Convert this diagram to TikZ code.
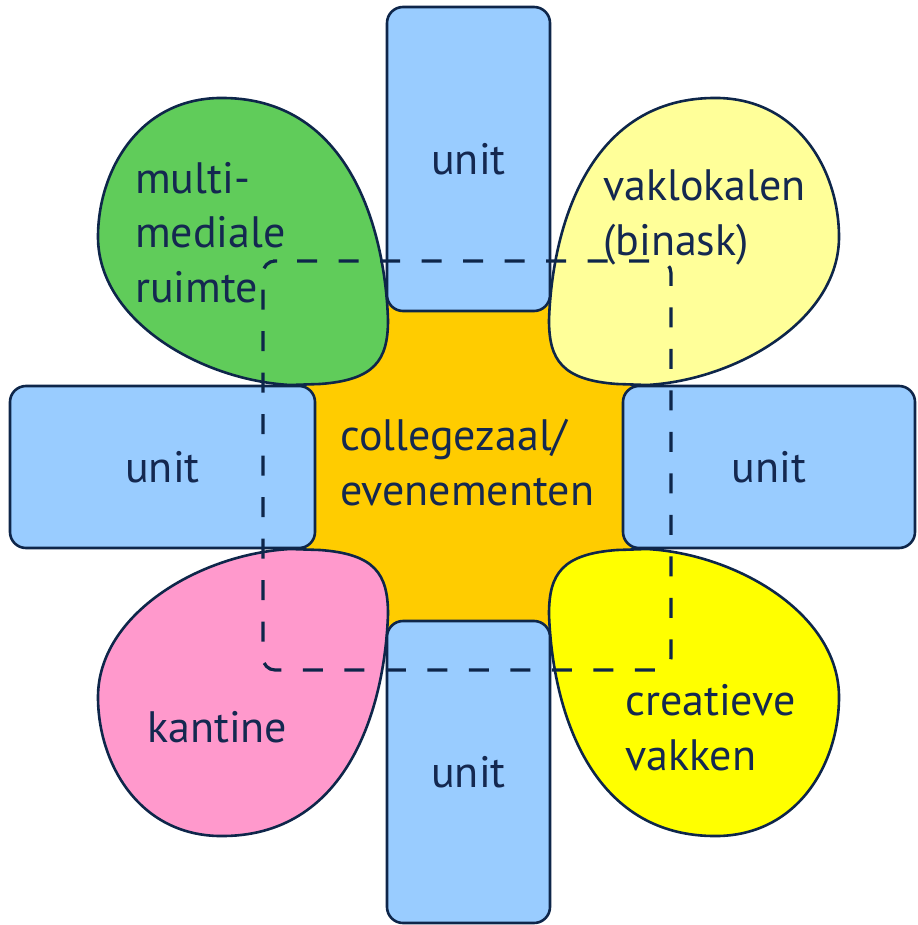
\documentclass[tikz,border=0pt]{standalone}
\usepackage{fontspec}
\setmainfont{PT Sans}
\definecolor{navy}{RGB}{14,38,74}
\definecolor{txtc}{RGB}{20,40,80}
\definecolor{unitblue}{HTML}{99CCFF}
\definecolor{centerorange}{HTML}{FFCC00}
\definecolor{petalgreen}{RGB}{96,204,90}
\definecolor{petallight}{HTML}{FFFF99}
\definecolor{petalyellow}{HTML}{FFFF00}
\definecolor{petalpink}{HTML}{FF99CC}
\newcommand{\PetalShape}{(-80.5,-147) .. controls (-83.5,-237) and (-118.5,-367) .. (-243.5,-369)
  .. controls (-328.5,-371) and (-370.5,-297) .. (-370.5,-230)
  .. controls (-370.5,-147) and (-268.5,-87) .. (-178.5,-82)
  -- (-148.5,-83) .. controls (-93.5,-87) and (-80.5,-107) .. (-80.5,-147) -- cycle}
\begin{document}
\begin{tikzpicture}[x=1pt,y=-1pt,
  outline/.style={draw=navy,line width=2.6pt},
  unitbox/.style={outline,fill=unitblue,rounded corners=16pt,inner sep=0pt,
    font=\fontsize{44}{54.5}\selectfont,text=txtc},
  petalfill/.style={outline,line join=round},
  label/.style={font=\fontsize{44}{54.5}\selectfont,text=txtc,inner sep=0pt,align=left,anchor=base west},
  zone/.style={draw=navy,line width=3.2pt,dash pattern=on 20pt off 21.5pt,rounded corners=12pt}]
\useasboundingbox (0,0) rectangle (917,925);
% centre
\fill[centerorange] (300,298) rectangle (637,636);
% petals
\begin{scope}[shift={(468.5,467)}]
  \filldraw[petalfill,fill=petalgreen] \PetalShape;
\end{scope}
\begin{scope}[shift={(468.5,467)},xscale=-1]
  \filldraw[petalfill,fill=petallight] \PetalShape;
\end{scope}
\begin{scope}[shift={(468.5,467)},yscale=-1]
  \filldraw[petalfill,fill=petalpink] \PetalShape;
\end{scope}
\begin{scope}[shift={(468.5,467)},xscale=-1,yscale=-1]
  \filldraw[petalfill,fill=petalyellow] \PetalShape;
\end{scope}
% units
\node[unitbox,minimum width=163pt,minimum height=304pt] (utop) at (468.5,159) {unit};
\node[unitbox,minimum width=163pt,minimum height=302pt] (ubot) at (468.5,772) {unit};
\node[unitbox,minimum width=305pt,minimum height=162pt] (uleft) at (162.5,467) {unit};
\node[unitbox,minimum width=292pt,minimum height=162pt] (uright) at (769,467) {unit};
% texts (base anchor = baseline of the last line)
\node[label] (tcenter) at (340,505) {collegezaal/\\evenementen};
\node[label] (tgreen) at (135,302) {multi-\\mediale\\ruimte};
\node[label] (tlight) at (603,255) {vaklokalen\\(binask)};
\node[label] (tpink) at (147,742) {kantine};
\node[label] (tyellow) at (625,770) {creatieve\\vakken};
% dashed zone
\draw[zone] (285,261) -- (671,261) -- (671,670) -- (263,670) -- (263,261) -- cycle;
\end{tikzpicture}
\end{document}
